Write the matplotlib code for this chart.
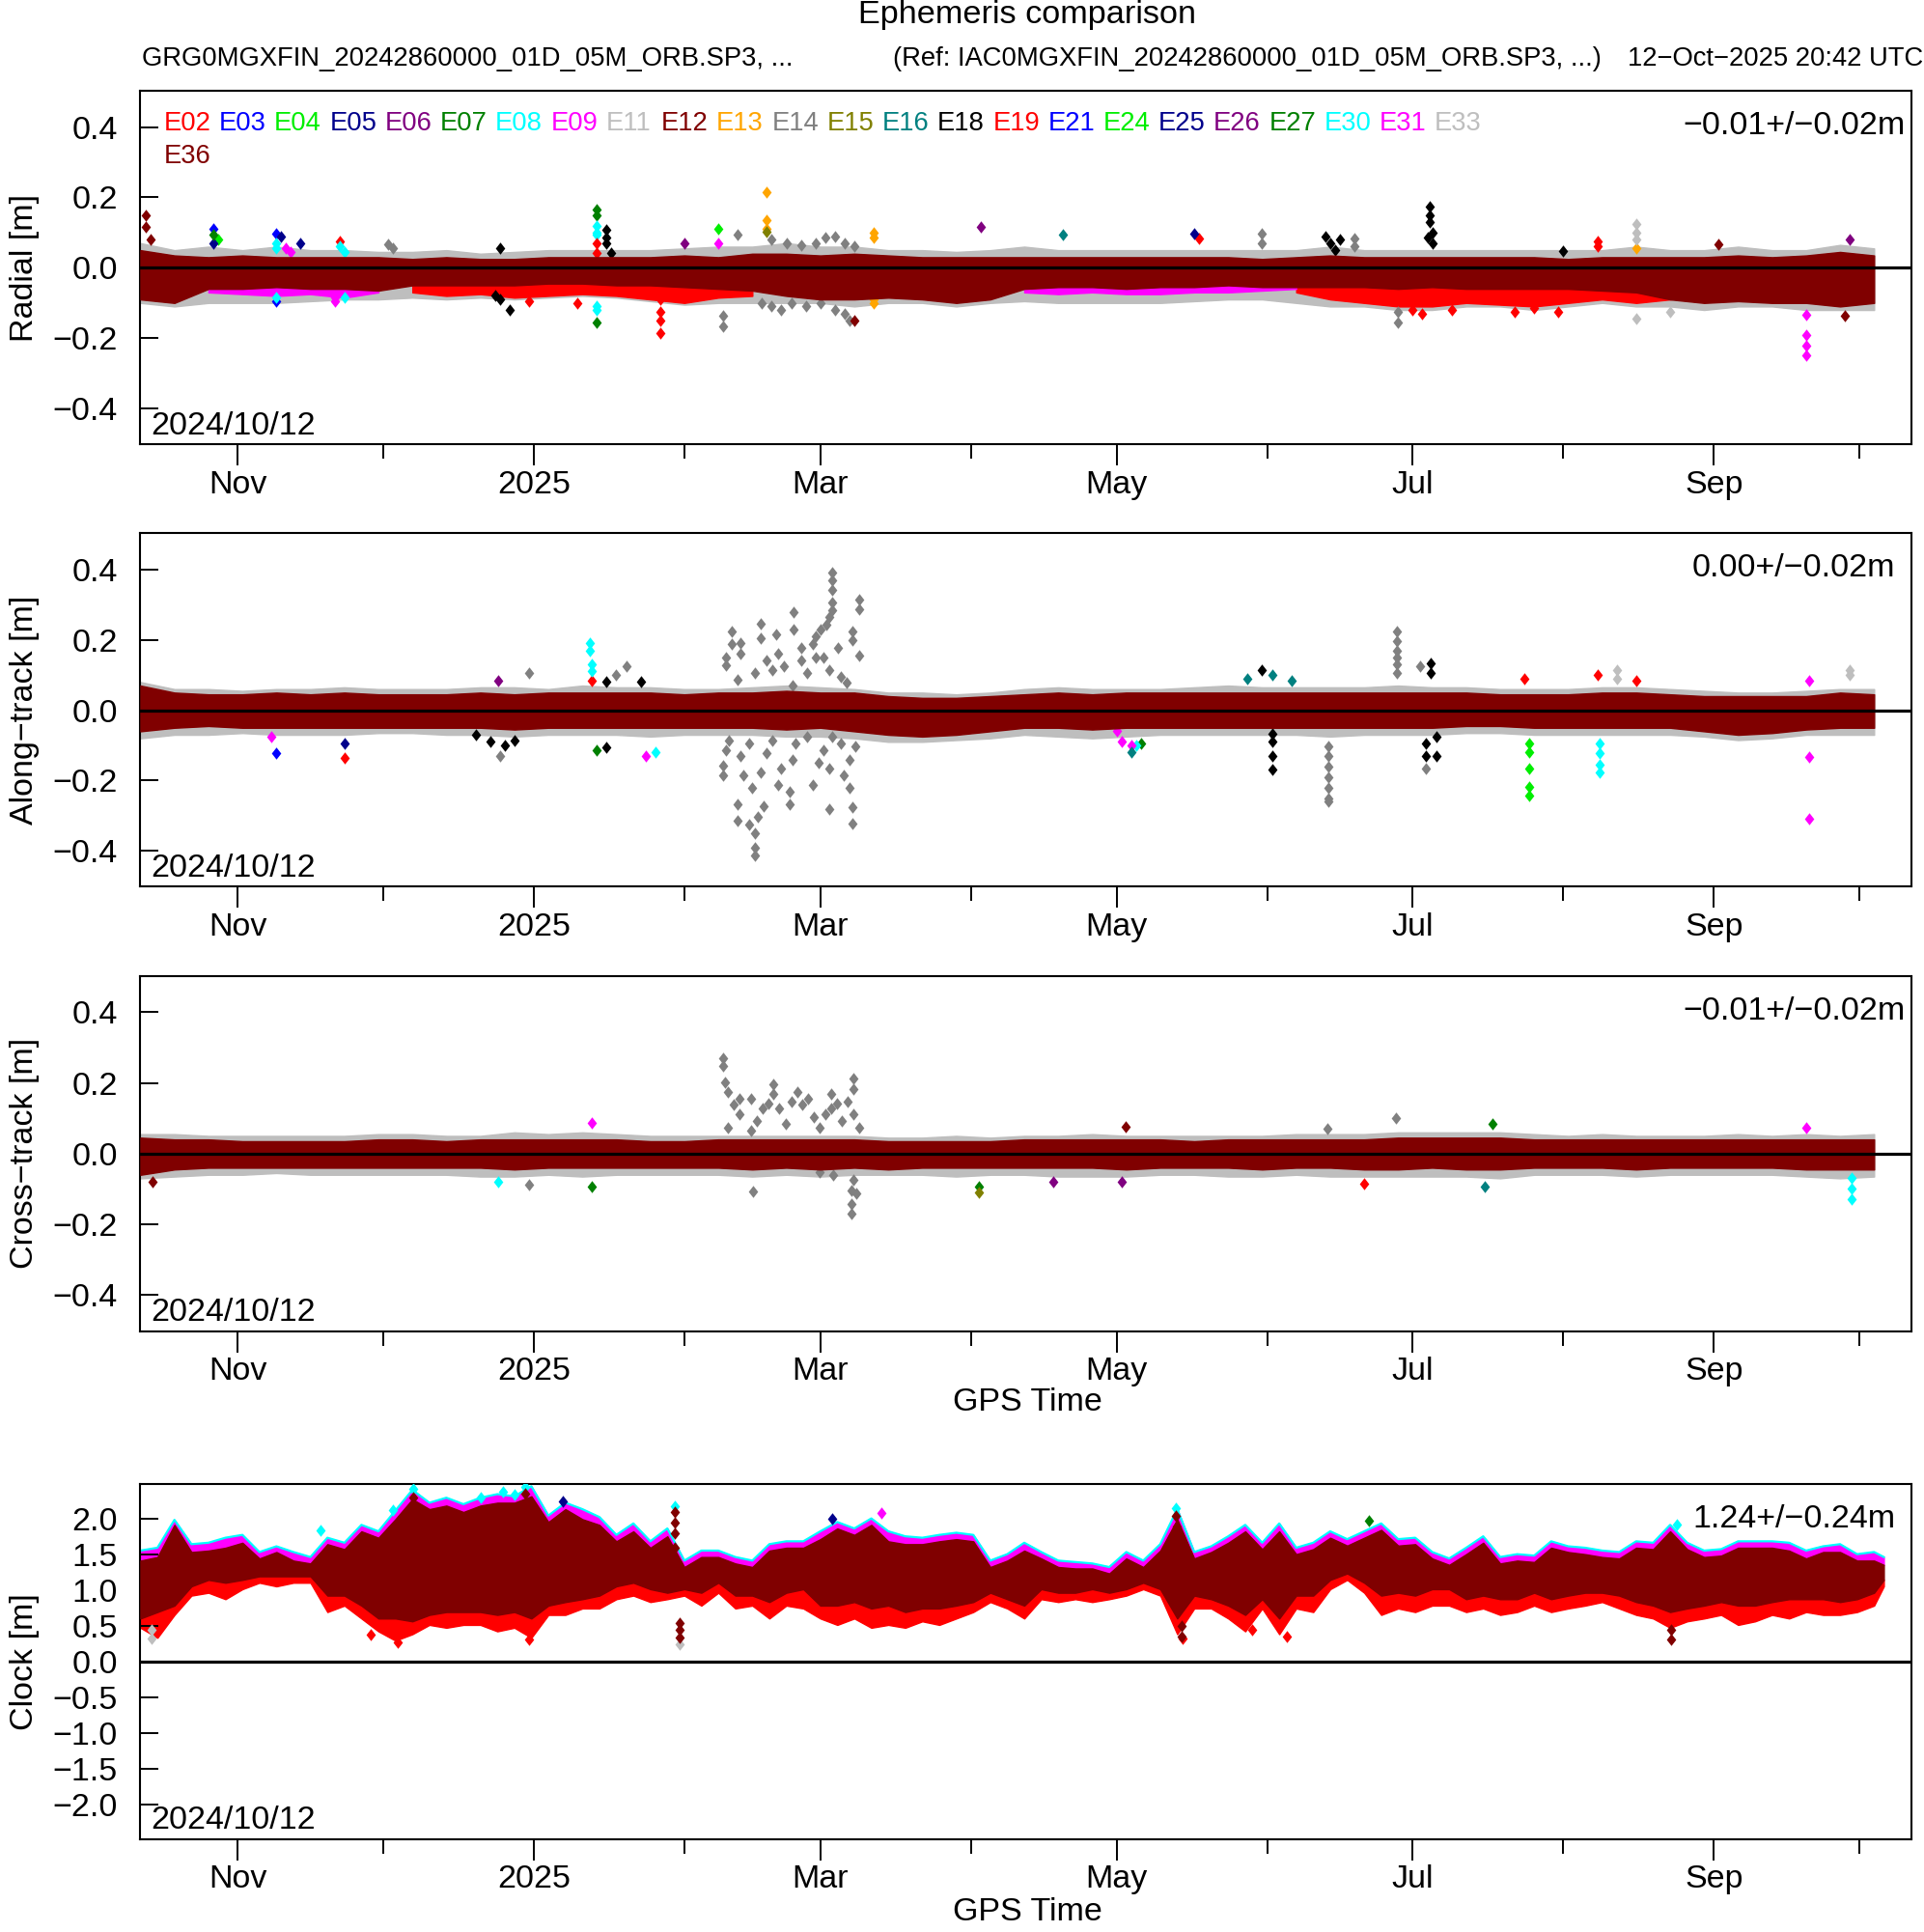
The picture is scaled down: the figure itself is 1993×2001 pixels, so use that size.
import numpy as np
import matplotlib
matplotlib.use('Agg')
import matplotlib.pyplot as plt
import matplotlib.dates as mdates
from matplotlib.ticker import FuncFormatter

plt.rcParams['font.family'] = ['Liberation Sans', 'DejaVu Sans']

# ---------------- data ----------------
sats = ['E02', 'E03', 'E04', 'E05', 'E06', 'E07', 'E08', 'E09', 'E11', 'E12', 'E13',
        'E14', 'E15', 'E16', 'E18', 'E19', 'E21', 'E24', 'E25', 'E26', 'E27', 'E30',
        'E31', 'E33', 'E36']
sat_colors = ['#FF0000', '#0000FF', '#00EE00', '#00008B', '#800080', '#008000', '#00FFFF',
              '#FF00FF', '#BEBEBE', '#800000', '#FFA500', '#808080', '#808000', '#008080',
              '#000000', '#FF0000', '#0000FF', '#00EE00', '#00008B', '#800080', '#008000',
              '#00FFFF', '#FF00FF', '#BEBEBE', '#800000']

# weekly sample days (days since 2024-10-12) for the orbit panels
week_days = [0, 7, 14, 21, 28, 35, 42, 49, 56, 63, 70, 77, 84, 91, 98, 105, 112, 119, 126, 133,
             140, 147, 154, 161, 168, 175, 182, 189, 196, 203, 210, 217, 224, 231, 238, 245,
             252, 259, 266, 273, 280, 287, 294, 301, 308, 315, 322, 329, 336, 343, 350, 357]

# Radial: envelope of E36 (main band) and of the other satellites (fringe)
rad_band_hi = [0.05, 0.035, 0.03, 0.035, 0.03, 0.03, 0.03, 0.03, 0.025, 0.03,
               0.025, 0.025, 0.03, 0.03, 0.03, 0.03, 0.035, 0.03, 0.04, 0.04,
               0.035, 0.04, 0.035, 0.03, 0.03, 0.03, 0.03, 0.03, 0.03, 0.03,
               0.03, 0.03, 0.03, 0.025, 0.03, 0.035, 0.03, 0.03, 0.03, 0.03,
               0.03, 0.03, 0.025, 0.03, 0.03, 0.03, 0.03, 0.035, 0.03, 0.035,
               0.045, 0.035]
rad_band_lo = [-0.09, -0.10, -0.06, -0.06, -0.055, -0.06, -0.06, -0.065, -0.05, -0.05,
               -0.05, -0.05, -0.045, -0.045, -0.05, -0.05, -0.055, -0.06, -0.065, -0.08,
               -0.09, -0.09, -0.085, -0.09, -0.10, -0.09, -0.06, -0.055, -0.055, -0.06,
               -0.055, -0.055, -0.05, -0.055, -0.055, -0.055, -0.055, -0.06, -0.055, -0.06,
               -0.06, -0.06, -0.06, -0.065, -0.07, -0.09, -0.10, -0.095, -0.10, -0.10,
               -0.11, -0.10]
rad_fringe_hi = [0.07, 0.05, 0.06, 0.05, 0.06, 0.05, 0.05, 0.045, 0.045, 0.05,
                 0.04, 0.045, 0.05, 0.05, 0.05, 0.05, 0.055, 0.06, 0.06, 0.07,
                 0.06, 0.06, 0.05, 0.05, 0.045, 0.05, 0.06, 0.05, 0.05, 0.05,
                 0.05, 0.05, 0.05, 0.05, 0.05, 0.06, 0.05, 0.05, 0.05, 0.05,
                 0.05, 0.05, 0.05, 0.05, 0.06, 0.05, 0.05, 0.06, 0.05, 0.05,
                 0.065, 0.055]
rad_fringe_lo = [-0.10, -0.11, -0.10, -0.10, -0.10, -0.095, -0.09, -0.09, -0.085, -0.09,
                 -0.085, -0.09, -0.085, -0.08, -0.085, -0.095, -0.105, -0.10, -0.10, -0.10,
                 -0.10, -0.11, -0.10, -0.10, -0.11, -0.10, -0.095, -0.10, -0.10, -0.10,
                 -0.10, -0.095, -0.09, -0.09, -0.10, -0.11, -0.11, -0.12, -0.12, -0.11,
                 -0.11, -0.12, -0.11, -0.10, -0.11, -0.11, -0.12, -0.11, -0.11, -0.12,
                 -0.12, -0.12]
# radial colored patches (E19 red, E31 magenta)
rad_E19_days_a = [56, 63, 70, 77, 84, 91, 98, 105, 112, 119, 126]
rad_E19_lo_a = [-0.07, -0.08, -0.075, -0.085, -0.08, -0.075, -0.08, -0.09, -0.10, -0.085, -0.08]
rad_E19_hi_a = [-0.035, -0.03, -0.03, -0.03, -0.025, -0.025, -0.03, -0.03, -0.035, -0.04, -0.04]
rad_E19_days_b = [238, 245, 252, 259, 266, 273, 280, 287, 294, 301, 308, 315, 322, 329]
rad_E19_lo_b = [-0.07, -0.09, -0.10, -0.11, -0.11, -0.10, -0.105, -0.11, -0.10, -0.09, -0.10,
                -0.09, -0.08, -0.07]
rad_E19_hi_b = [-0.035, -0.03, -0.03, -0.025, -0.03, -0.03, -0.03, -0.03, -0.03, -0.035,
                -0.035, -0.04, -0.045, -0.05]
rad_E31_days_a = [14, 21, 28, 35, 42, 49]
rad_E31_lo_a = [-0.07, -0.075, -0.08, -0.075, -0.085, -0.07]
rad_E31_hi_a = [-0.03, -0.03, -0.03, -0.03, -0.03, -0.03]
rad_E31_days_b = [182, 189, 196, 203, 210, 217, 224, 231, 238]
rad_E31_lo_b = [-0.07, -0.075, -0.07, -0.075, -0.075, -0.07, -0.07, -0.065, -0.06]
rad_E31_hi_b = [-0.025, -0.025, -0.025, -0.025, -0.025, -0.025, -0.025, -0.025, -0.025]

rad_outliers = [
    ('E36', 1, 0.148), ('E36', 1, 0.116), ('E36', 2, 0.08),
    ('E03', 15, 0.11), ('E07', 15, 0.093), ('E04', 16, 0.08), ('E05', 15, 0.07),
    ('E03', 28, 0.098), ('E05', 29, 0.088), ('E08', 28, 0.07), ('E08', 28, 0.055),
    ('E09', 30, 0.057), ('E09', 31, 0.045), ('E05', 33, 0.07), ('E02', 41, 0.075),
    ('E08', 41, 0.06), ('E08', 42, 0.045), ('E09', 40, -0.094), ('E09', 40, -0.085),
    ('E03', 28, -0.094), ('E08', 28, -0.085), ('E08', 42, -0.085),
    ('E14', 51, 0.066), ('E14', 52, 0.055),
    ('E18', 74, 0.057), ('E18', 73, -0.08), ('E18', 74, -0.09), ('E18', 76, -0.12),
    ('E19', 80, -0.094), ('E19', 90, -0.10),
    ('E07', 94, 0.166), ('E07', 94, 0.148), ('E08', 94, 0.12), ('E08', 94, 0.10),
    ('E08', 94, 0.093), ('E19', 94, 0.07), ('E19', 94, 0.043),
    ('E08', 94, -0.108), ('E08', 94, -0.12), ('E07', 94, -0.155),
    ('E18', 96, 0.107), ('E18', 96, 0.085), ('E18', 96, 0.07), ('E18', 97, 0.043),
    ('E19', 107, -0.09), ('E19', 107, -0.126), ('E19', 107, -0.149), ('E19', 107, -0.186),
    ('E04', 119, 0.111), ('E09', 119, 0.07), ('E14', 120, -0.135), ('E14', 120, -0.167),
    ('E14', 123, 0.093),
    ('E13', 129, 0.216), ('E13', 129, 0.134), ('E13', 129, 0.111), ('E15', 129, 0.102),
    ('E14', 130, 0.08), ('E14', 133, 0.07), ('E14', 136, 0.065), ('E14', 139, 0.07),
    ('E14', 141, 0.085), ('E14', 143, 0.09), ('E14', 145, 0.07), ('E14', 147, 0.06),
    ('E14', 128, -0.10), ('E14', 130, -0.11), ('E14', 132, -0.12), ('E14', 134, -0.10),
    ('E14', 137, -0.11), ('E14', 140, -0.10), ('E14', 143, -0.12), ('E14', 145, -0.13),
    ('E14', 146, -0.15),
    ('E13', 151, 0.10), ('E13', 151, 0.085), ('E13', 151, -0.09), ('E13', 151, -0.10),
    ('E26', 173, 0.116), ('E26', 112, 0.07), ('E36', 147, -0.149),
    ('E16', 190, 0.093), ('E25', 217, 0.098), ('E19', 218, 0.084), ('E14', 231, 0.098),
    ('E14', 231, 0.07),
    ('E18', 244, 0.09), ('E18', 245, 0.07), ('E18', 246, 0.05), ('E18', 247, 0.08),
    ('E14', 250, 0.084), ('E14', 250, 0.06),
    ('E18', 265.5, 0.174), ('E18', 265.5, 0.148), ('E18', 265.5, 0.13), ('E18', 266, 0.10),
    ('E18', 266, 0.07), ('E18', 265, 0.085),
    ('E14', 259, -0.126), ('E14', 259, -0.155),
    ('E19', 262, -0.12), ('E19', 264, -0.13), ('E19', 270, -0.12), ('E19', 283, -0.125),
    ('E19', 287, -0.115), ('E19', 292, -0.125),
    ('E18', 293, 0.047), ('E19', 300, 0.075), ('E19', 300, 0.06),
    ('E33', 308, 0.125), ('E33', 308, 0.10), ('E33', 308, 0.08), ('E33', 308, -0.144),
    ('E13', 308, 0.057),
    ('E31', 343, -0.133), ('E31', 343, -0.19), ('E31', 343, -0.222), ('E31', 343, -0.25),
    ('E26', 352, 0.08), ('E36', 325, 0.066), ('E36', 351, -0.135), ('E33', 315, -0.126),
]

# Along-track
alo_band_hi = [0.07, 0.05, 0.045, 0.045, 0.05, 0.045, 0.05, 0.045, 0.045, 0.045,
               0.05, 0.045, 0.05, 0.05, 0.05, 0.05, 0.045, 0.05, 0.05, 0.055,
               0.05, 0.05, 0.04, 0.035, 0.035, 0.04, 0.045, 0.05, 0.045, 0.05,
               0.05, 0.05, 0.05, 0.05, 0.05, 0.05, 0.05, 0.05, 0.05, 0.05,
               0.045, 0.045, 0.045, 0.05, 0.05, 0.045, 0.04, 0.04, 0.04, 0.04,
               0.05, 0.045]
alo_band_lo = [-0.06, -0.05, -0.045, -0.05, -0.05, -0.05, -0.05, -0.05, -0.05, -0.05,
               -0.05, -0.055, -0.05, -0.05, -0.05, -0.05, -0.05, -0.05, -0.05, -0.055,
               -0.05, -0.06, -0.07, -0.075, -0.07, -0.06, -0.05, -0.05, -0.055, -0.05,
               -0.05, -0.05, -0.05, -0.05, -0.05, -0.05, -0.05, -0.05, -0.05, -0.045,
               -0.045, -0.05, -0.05, -0.05, -0.05, -0.05, -0.06, -0.07, -0.065, -0.055,
               -0.05, -0.05]
alo_fringe_hi = [0.08, 0.06, 0.06, 0.055, 0.06, 0.06, 0.065, 0.06, 0.06, 0.06,
                 0.065, 0.065, 0.06, 0.07, 0.065, 0.065, 0.06, 0.06, 0.065, 0.07,
                 0.065, 0.06, 0.05, 0.05, 0.045, 0.05, 0.06, 0.065, 0.06, 0.06,
                 0.06, 0.065, 0.07, 0.065, 0.065, 0.065, 0.065, 0.07, 0.065, 0.065,
                 0.06, 0.06, 0.06, 0.065, 0.065, 0.06, 0.055, 0.05, 0.05, 0.055,
                 0.06, 0.06]
alo_fringe_lo = [-0.08, -0.07, -0.07, -0.065, -0.07, -0.07, -0.07, -0.065, -0.065, -0.07,
                 -0.07, -0.075, -0.07, -0.07, -0.07, -0.075, -0.07, -0.07, -0.07, -0.075,
                 -0.075, -0.08, -0.09, -0.09, -0.085, -0.08, -0.07, -0.075, -0.08, -0.075,
                 -0.07, -0.07, -0.07, -0.07, -0.07, -0.075, -0.07, -0.07, -0.07, -0.065,
                 -0.065, -0.07, -0.07, -0.07, -0.07, -0.07, -0.075, -0.085, -0.08, -0.07,
                 -0.07, -0.07]
alo_outliers = [
    ('E08', 92.6, 0.19), ('E08', 92.6, 0.17), ('E08', 93, 0.13), ('E08', 93, 0.11),
    ('E02', 93, 0.083), ('E14', 80, 0.105), ('E14', 100, 0.124), ('E14', 98, 0.10),
    ('E18', 96, 0.08), ('E18', 103, 0.08), ('E26', 73.6, 0.083),
    ('E09', 27, -0.076), ('E03', 28, -0.122), ('E05', 42, -0.095), ('E02', 42, -0.135),
    ('E18', 69, -0.07), ('E18', 72, -0.09), ('E18', 75, -0.10), ('E18', 77, -0.085),
    ('E14', 74, -0.13), ('E09', 104, -0.13), ('E08', 106, -0.12), ('E07', 94, -0.113),
    ('E18', 96, -0.105),
    ('E14', 142.5, 0.392), ('E14', 142.5, 0.369), ('E14', 142.5, 0.342), ('E14', 142.5, 0.305),
    ('E14', 142.5, 0.283), ('E14', 141.9, 0.265), ('E14', 141.3, 0.242), ('E14', 140.1, 0.228),
    ('E14', 139, 0.21), ('E14', 138.4, 0.187), ('E14', 148, 0.315), ('E14', 148, 0.287),
    ('E14', 146.6, 0.224), ('E14', 146.6, 0.20), ('E14', 148, 0.155), ('E14', 134.5, 0.278),
    ('E14', 134.5, 0.228), ('E14', 127.7, 0.246), ('E14', 127.7, 0.205), ('E14', 131, 0.215),
    ('E14', 121.8, 0.224), ('E14', 121.8, 0.187), ('E14', 123.6, 0.192), ('E14', 123.6, 0.16),
    ('E14', 120.6, 0.151), ('E14', 120.6, 0.128), ('E14', 128.9, 0.142), ('E14', 131.3, 0.16),
    ('E14', 132.5, 0.124), ('E14', 136, 0.178), ('E14', 136, 0.142), ('E14', 137.2, 0.105),
    ('E14', 140.7, 0.151), ('E14', 141.9, 0.115), ('E14', 143.7, 0.178), ('E14', 144.3, 0.096),
    ('E14', 145.5, 0.078), ('E14', 126.6, 0.105), ('E14', 130.1, 0.115), ('E14', 123, 0.087),
    ('E14', 134.2, 0.069), ('E14', 139, 0.151),
    ('E14', 126.5, -0.413), ('E14', 126.5, -0.39), ('E14', 126.5, -0.35), ('E14', 125.4, -0.326),
    ('E14', 123, -0.313), ('E14', 123, -0.267), ('E14', 128.3, -0.272), ('E14', 127.2, -0.304),
    ('E14', 133.6, -0.267), ('E14', 133.6, -0.231), ('E14', 141.9, -0.281), ('E14', 146.6, -0.322),
    ('E14', 146.6, -0.276), ('E14', 146, -0.222), ('E14', 120, -0.185), ('E14', 120, -0.158),
    ('E14', 120.6, -0.113), ('E14', 124.2, -0.185), ('E14', 126, -0.222), ('E14', 127.7, -0.176),
    ('E14', 128.9, -0.122), ('E14', 131.3, -0.213), ('E14', 131.9, -0.167), ('E14', 134.2, -0.14),
    ('E14', 134.8, -0.095), ('E14', 138.4, -0.213), ('E14', 139.6, -0.149), ('E14', 140.7, -0.113),
    ('E14', 141.9, -0.167), ('E14', 144.9, -0.185), ('E14', 146, -0.14), ('E14', 147.2, -0.104),
    ('E14', 144.3, -0.095), ('E14', 123.6, -0.131), ('E14', 121.2, -0.085), ('E14', 125.4, -0.095),
    ('E14', 130.1, -0.085), ('E14', 137.2, -0.076), ('E14', 142.5, -0.076),
    ('E14', 258.8, 0.225), ('E14', 258.8, 0.196), ('E14', 258.8, 0.17), ('E14', 258.8, 0.15),
    ('E14', 258.8, 0.13), ('E14', 258.8, 0.105), ('E18', 265.6, 0.133), ('E18', 265.6, 0.105),
    ('E18', 231, 0.115), ('E14', 263.6, 0.124),
    ('E18', 233, -0.067), ('E18', 233, -0.09), ('E18', 233, -0.13), ('E18', 233, -0.17),
    ('E18', 264.6, -0.095), ('E18', 264.6, -0.13), ('E18', 266.8, -0.076), ('E18', 266.8, -0.13),
    ('E14', 264.6, -0.165),
    ('E14', 244.6, -0.104), ('E14', 244.6, -0.13), ('E14', 244.6, -0.16), ('E14', 244.6, -0.19),
    ('E14', 244.6, -0.22), ('E14', 244.6, -0.25), ('E14', 244.6, -0.26),
    ('E04', 286, -0.095), ('E04', 286, -0.12), ('E04', 286, -0.167), ('E04', 286, -0.217),
    ('E04', 286, -0.242),
    ('E30', 300.4, -0.095), ('E30', 300.4, -0.122), ('E30', 300.4, -0.154), ('E30', 300.4, -0.176),
    ('E31', 343.6, -0.134), ('E31', 343.6, -0.308), ('E31', 343.6, 0.083),
    ('E09', 201, -0.06), ('E09', 202, -0.09), ('E09', 204, -0.10), ('E08', 205, -0.10),
    ('E16', 204, -0.12), ('E07', 206, -0.095),
    ('E16', 228, 0.09), ('E16', 233, 0.10), ('E16', 237, 0.085), ('E33', 304, 0.09),
    ('E33', 304, 0.115), ('E33', 352, 0.10), ('E33', 352, 0.115), ('E02', 300, 0.10),
    ('E02', 285, 0.09), ('E02', 308, 0.083),
]

# Cross-track
crs_band_hi = [0.045, 0.04, 0.04, 0.035, 0.035, 0.035, 0.035, 0.04, 0.04, 0.035,
               0.04, 0.04, 0.04, 0.04, 0.04, 0.035, 0.035, 0.04, 0.04, 0.04,
               0.04, 0.04, 0.035, 0.035, 0.035, 0.035, 0.04, 0.04, 0.04, 0.04,
               0.04, 0.035, 0.04, 0.04, 0.04, 0.04, 0.04, 0.045, 0.045, 0.045,
               0.045, 0.04, 0.04, 0.04, 0.04, 0.04, 0.04, 0.04, 0.04, 0.04,
               0.04, 0.04]
crs_band_lo = [-0.06, -0.045, -0.04, -0.04, -0.04, -0.04, -0.04, -0.04, -0.04, -0.04,
               -0.04, -0.045, -0.04, -0.04, -0.04, -0.04, -0.04, -0.04, -0.045, -0.04,
               -0.045, -0.04, -0.045, -0.04, -0.04, -0.04, -0.04, -0.04, -0.04, -0.045,
               -0.04, -0.04, -0.04, -0.045, -0.04, -0.04, -0.045, -0.045, -0.04, -0.045,
               -0.045, -0.04, -0.04, -0.04, -0.045, -0.04, -0.04, -0.04, -0.04, -0.045,
               -0.045, -0.045]
crs_fringe_hi = [0.055, 0.055, 0.05, 0.05, 0.05, 0.05, 0.05, 0.055, 0.055, 0.05,
                 0.05, 0.06, 0.055, 0.06, 0.055, 0.05, 0.05, 0.05, 0.05, 0.05,
                 0.05, 0.05, 0.045, 0.045, 0.05, 0.045, 0.05, 0.05, 0.055, 0.05,
                 0.05, 0.05, 0.05, 0.05, 0.055, 0.055, 0.055, 0.06, 0.06, 0.06,
                 0.06, 0.055, 0.05, 0.055, 0.05, 0.05, 0.05, 0.055, 0.05, 0.055,
                 0.05, 0.055]
crs_fringe_lo = [-0.07, -0.065, -0.06, -0.06, -0.055, -0.06, -0.06, -0.06, -0.06, -0.06,
                 -0.065, -0.065, -0.06, -0.065, -0.06, -0.06, -0.06, -0.06, -0.065, -0.06,
                 -0.065, -0.06, -0.06, -0.06, -0.065, -0.06, -0.06, -0.065, -0.065, -0.065,
                 -0.06, -0.06, -0.065, -0.065, -0.06, -0.065, -0.065, -0.065, -0.065, -0.065,
                 -0.07, -0.06, -0.06, -0.06, -0.065, -0.06, -0.06, -0.06, -0.06, -0.065,
                 -0.07, -0.065]
crs_outliers = [
    ('E14', 119.9, 0.27), ('E14', 119.9, 0.247), ('E14', 120.3, 0.201), ('E14', 121, 0.174),
    ('E14', 122.2, 0.138), ('E14', 123.4, 0.111), ('E14', 125.8, 0.156), ('E14', 127, 0.093),
    ('E14', 130.4, 0.197), ('E14', 130.4, 0.17), ('E14', 131.6, 0.129), ('E14', 135.2, 0.174),
    ('E14', 136.3, 0.138), ('E14', 138.7, 0.102), ('E14', 142.2, 0.17), ('E14', 142.2, 0.129),
    ('E14', 145.7, 0.147), ('E14', 146.9, 0.211), ('E14', 146.9, 0.183), ('E14', 146.9, 0.111),
    ('E14', 148.1, 0.074), ('E14', 121, 0.074), ('E14', 125.8, 0.065), ('E14', 132.8, 0.083),
    ('E14', 139.8, 0.074), ('E14', 134, 0.147), ('E14', 128.1, 0.129), ('E14', 141, 0.111),
    ('E14', 137.5, 0.156), ('E14', 144.5, 0.093), ('E14', 123.4, 0.156), ('E14', 129.3, 0.142),
    ('E14', 143.4, 0.142),
    ('E14', 126.2, -0.107), ('E14', 146.4, -0.143), ('E14', 146.4, -0.171), ('E14', 146.4, -0.103),
    ('E14', 147.4, -0.112), ('E14', 142.7, -0.062), ('E14', 139.8, -0.053), ('E14', 146.9, -0.075),
    ('E30', 352.4, -0.07), ('E30', 352.4, -0.10), ('E30', 352.4, -0.13), ('E31', 343, 0.074),
    ('E09', 93, 0.086), ('E27', 278.4, 0.083), ('E14', 258.5, 0.10), ('E14', 244.4, 0.07),
    ('E36', 2.4, -0.08), ('E15', 172.7, -0.11), ('E07', 172.7, -0.093), ('E14', 80, -0.089),
    ('E07', 93, -0.093), ('E16', 276.8, -0.093), ('E19', 252, -0.085), ('E26', 188, -0.08),
    ('E26', 202, -0.08), ('E08', 73.6, -0.08), ('E36', 202.8, 0.076),
]

# Clock: sampled every 3.5 days; top of all satellites, top/bottom of E36, bottom of all
clk_days = [0, 3.5, 7, 10.5, 14, 17.5, 21, 24.5, 28, 31.5, 35, 38.5, 42, 45.5, 49, 52.5,
            56, 59.5, 63, 66.5, 70, 73.5, 77, 80.5, 84, 87.5, 91, 94.5, 98, 101.5, 105, 108.5,
            112, 115.5, 119, 122.5, 126, 129.5, 133, 136.5, 140, 143.5, 147, 150.5, 154, 157.5,
            161, 164.5, 168, 171.5, 175, 178.5,
            182, 185.5, 189, 192.5, 196, 199.5, 203, 206.5, 210, 213.5, 217, 220.5, 224, 227.5,
            231, 234.5, 238, 241.5, 245, 248.5, 252, 255.5, 259, 262.5, 266, 269.5, 273, 276.5,
            280, 283.5, 287, 290.5, 294, 297.5, 301, 304.5, 308, 311.5, 315, 318.5, 322, 325.5,
            329, 332.5, 336, 339.5, 343, 346.5, 350, 353.5, 357, 359]
clk_top = [1.56, 1.60, 1.99, 1.65, 1.67, 1.74, 1.78, 1.54, 1.62, 1.54, 1.47, 1.74, 1.67, 1.92,
           1.83, 2.12, 2.41, 2.23, 2.30, 2.21, 2.30, 2.35, 2.32, 2.46, 2.05, 2.23, 2.14, 2.03,
           1.78, 1.94, 1.69, 1.87, 1.42, 1.56, 1.56, 1.47, 1.42, 1.65, 1.69, 1.69, 1.83, 1.96,
           1.87, 2.01, 1.83, 1.76, 1.74, 1.78, 1.81, 1.78, 1.42, 1.51,
           1.67, 1.54, 1.42, 1.40, 1.38, 1.33, 1.54, 1.42, 1.65, 2.14, 1.54, 1.62, 1.76, 1.92,
           1.67, 1.94, 1.60, 1.67, 1.83, 1.72, 1.83, 1.94, 1.72, 1.74, 1.54, 1.45, 1.60, 1.76,
           1.47, 1.51, 1.49, 1.69, 1.62, 1.60, 1.56, 1.54, 1.69, 1.67, 1.92, 1.67, 1.56, 1.58,
           1.69, 1.69, 1.69, 1.67, 1.56, 1.62, 1.65, 1.51, 1.54, 1.47]
clk_band_hi = [1.42, 1.47, 1.92, 1.54, 1.56, 1.60, 1.67, 1.45, 1.54, 1.42, 1.38, 1.65, 1.58,
               1.83, 1.74, 2.00, 2.28, 2.14, 2.19, 2.10, 2.19, 2.23, 2.23, 2.32, 1.96, 2.14,
               2.00, 1.92, 1.69, 1.83, 1.60, 1.76, 1.33, 1.47, 1.47, 1.38, 1.33, 1.56, 1.60,
               1.60, 1.72, 1.87, 1.78, 1.92, 1.69, 1.65, 1.65, 1.69, 1.72, 1.69, 1.33, 1.42,
               1.56, 1.45, 1.33, 1.31, 1.31, 1.24, 1.45, 1.33, 1.56, 2.00, 1.45, 1.54, 1.67,
               1.83, 1.58, 1.83, 1.51, 1.58, 1.74, 1.63, 1.74, 1.85, 1.63, 1.65, 1.45, 1.36,
               1.51, 1.67, 1.38, 1.42, 1.40, 1.60, 1.54, 1.51, 1.47, 1.45, 1.60, 1.58, 1.83,
               1.58, 1.47, 1.49, 1.60, 1.60, 1.60, 1.56, 1.45, 1.54, 1.54, 1.42, 1.42, 1.36]
clk_band_lo = [0.61, 0.70, 0.79, 1.06, 1.15, 1.11, 1.15, 1.20, 1.20, 1.20, 1.20, 0.93, 0.93,
               0.79, 0.61, 0.61, 0.57, 0.66, 0.70, 0.70, 0.70, 0.66, 0.70, 0.61, 0.79, 0.84,
               0.88, 0.93, 1.06, 1.11, 1.02, 0.97, 1.02, 0.97, 1.11, 0.93, 0.93, 0.84, 0.97,
               1.02, 0.79, 0.79, 0.84, 0.75, 0.79, 0.70, 0.75, 0.75, 0.79, 0.84, 0.97, 0.88,
               0.79, 1.02, 0.97, 0.97, 1.02, 0.97, 1.02, 1.11, 1.02, 0.61, 0.93, 0.88, 0.79,
               0.66, 0.88, 0.61, 0.93, 0.93, 1.15, 1.24, 1.11, 0.93, 0.97, 0.93, 1.02, 1.02,
               0.88, 0.93, 0.88, 0.88, 0.97, 0.88, 0.93, 0.97, 0.97, 0.93, 0.84, 0.79, 0.70,
               0.75, 0.79, 0.84, 0.79, 0.79, 0.84, 0.88, 0.88, 0.88, 0.84, 0.88, 0.97, 1.15]
clk_bottom = [0.48, 0.34, 0.66, 0.93, 0.97, 0.88, 1.02, 1.11, 1.06, 1.11, 1.11, 0.70, 0.79,
              0.61, 0.43, 0.30, 0.39, 0.52, 0.48, 0.52, 0.52, 0.43, 0.48, 0.34, 0.66, 0.66,
              0.75, 0.75, 0.88, 0.93, 0.84, 0.88, 0.93, 0.79, 0.97, 0.75, 0.79, 0.61, 0.79,
              0.75, 0.61, 0.52, 0.61, 0.48, 0.52, 0.48, 0.57, 0.52, 0.61, 0.70, 0.84, 0.75,
              0.61, 0.88, 0.84, 0.88, 0.84, 0.88, 0.93, 1.02, 0.93, 0.39, 0.75, 0.75, 0.61,
              0.43, 0.75, 0.39, 0.75, 0.70, 1.02, 1.15, 0.97, 0.66, 0.75, 0.70, 0.79, 0.79,
              0.70, 0.75, 0.66, 0.70, 0.79, 0.70, 0.75, 0.79, 0.84, 0.75, 0.66, 0.61, 0.48,
              0.57, 0.61, 0.66, 0.52, 0.57, 0.66, 0.61, 0.70, 0.66, 0.66, 0.70, 0.79, 1.06]
clk_outliers = [
    ('E08', 110, 2.18), ('E36', 110, 2.1), ('E36', 110, 1.95), ('E36', 110, 1.8),
    ('E36', 110, 1.6), ('E36', 111, 0.55), ('E36', 111, 0.45), ('E36', 111, 0.34),
    ('E11', 111, 0.25),
    ('E08', 79.3, 2.45), ('E36', 79.3, 2.35), ('E08', 56.2, 2.42), ('E36', 56.2, 2.3),
    ('E19', 53, 0.27), ('E19', 80, 0.31), ('E19', 47.4, 0.38), ('E11', 2.2, 0.33),
    ('E11', 2.2, 0.45),
    ('E08', 213.2, 2.16), ('E36', 213.2, 2.05), ('E36', 213.5, 1.9), ('E36', 214, 1.75),
    ('E36', 214.4, 0.5), ('E36', 214.4, 0.36), ('E19', 214.6, 0.33),
    ('E19', 236, 0.36), ('E19', 229, 0.45), ('E36', 315.2, 0.31), ('E36', 315.2, 0.45),
    ('E08', 316.4, 1.93), ('E07', 253, 1.98),
    ('E08', 52, 2.13), ('E08', 70, 2.3), ('E08', 74.6, 2.38), ('E08', 77, 2.34),
    ('E05', 87, 2.25), ('E08', 37, 1.84), ('E09', 152.6, 2.09), ('E05', 142.5, 2.0),
]

stats_text = ['\u22120.01+/\u22120.02m', '0.00+/\u22120.02m', '\u22120.01+/\u22120.02m',
              '1.24+/\u22120.24m']
ylabels = ['Radial [m]', 'Along\u2212track [m]', 'Cross\u2212track [m]', 'Clock [m]']
orbit_ticks = [-0.4, -0.2, 0.0, 0.2, 0.4]
clock_ticks = [-2.0, -1.5, -1.0, -0.5, 0.0, 0.5, 1.0, 1.5, 2.0]

# ---------------- drawing ----------------
START = np.datetime64('2024-10-12T00:00:00')
color_of = dict(zip(sats, sat_colors))
MAROON = color_of['E36']
DIAMOND = [(0, 1), (0.78, 0), (0, -1), (-0.78, 0), (0, 1)]


def to_dt(days):
    return START + (np.asarray(days, dtype=float) * 86400).astype('timedelta64[s]')


def fmt_num(v):
    s = '%.1f' % abs(v)
    return ('\u2212' + s) if v < 0 else s


def draw_outliers(ax, outliers, maroon_pass):
    for sat in sats:
        is_maroon = color_of[sat] == MAROON
        if is_maroon != maroon_pass:
            continue
        pts = [(d, v) for s, d, v in outliers if s == sat]
        if not pts:
            continue
        d, v = zip(*pts)
        ax.plot(to_dt(d), v, linestyle='none', marker=DIAMOND, markersize=9,
                markeredgewidth=0, color=color_of[sat], zorder=5 if maroon_pass else 3)


def draw_orbit(ax, band_hi, band_lo, fringe_hi, fringe_lo, patches, outliers):
    x = to_dt(week_days)
    ax.fill_between(x, fringe_lo, fringe_hi, color=color_of['E11'], lw=1.0, zorder=1)
    for sat, days, lo, hi in patches:
        ax.fill_between(to_dt(days), lo, hi, color=color_of[sat], lw=1.0, zorder=2)
    draw_outliers(ax, outliers, False)
    ax.fill_between(x, band_lo, band_hi, color=MAROON, lw=1.0, zorder=4)
    draw_outliers(ax, outliers, True)
    ax.axhline(0, color='black', lw=2.3, zorder=6)


def draw_clock(ax):
    x = to_dt(clk_days)
    ax.fill_between(x, clk_bottom, clk_band_lo, color=color_of['E19'], lw=1.0, zorder=1)
    ax.fill_between(x, clk_band_hi, clk_top, color=color_of['E31'], lw=1.0, zorder=1)
    ax.plot(x, clk_top, color=color_of['E30'], lw=1.6, zorder=2)
    draw_outliers(ax, clk_outliers, False)
    ax.fill_between(x, clk_band_lo, clk_band_hi, color=MAROON, lw=1.0, zorder=4)
    draw_outliers(ax, clk_outliers, True)
    ax.axhline(0, color='black', lw=2.3, zorder=6)


def month_fmt(x, pos):
    d = mdates.num2date(x)
    return str(d.year) if d.month == 1 else d.strftime('%b')


def style(ax, ylim, ticks, stat, ylabel):
    ax.set_xlim(to_dt([0])[0], to_dt([364.7])[0])
    ax.set_ylim(ylim)
    ax.set_yticks(ticks)
    ax.set_yticklabels([fmt_num(t) for t in ticks])
    ax.tick_params(axis='y', direction='in', length=13.5, width=1.4, pad=17, labelsize=24.5)
    ax.xaxis.set_major_locator(mdates.MonthLocator(bymonth=[1, 3, 5, 7, 9, 11]))
    ax.xaxis.set_minor_locator(mdates.MonthLocator(bymonth=[2, 4, 6, 8, 10, 12]))
    ax.xaxis.set_major_formatter(FuncFormatter(month_fmt))
    ax.tick_params(axis='x', which='major', direction='out', length=16, width=1.4, pad=3,
                   labelsize=24.5)
    ax.tick_params(axis='x', which='minor', direction='out', length=11, width=1.4)
    for sp in ax.spines.values():
        sp.set_linewidth(1.5)
    ax.text(0.9335, 0.90, stat, transform=ax.transAxes, ha='center', va='center',
            fontsize=24.5, zorder=10)
    ax.text(0.0056, 0.052, '2024/10/12', transform=ax.transAxes, ha='left', va='center',
            fontsize=24.5, zorder=10)
    pos = ax.get_position()
    ax.figure.text(0.0128, pos.y0 + pos.height / 2, ylabel, rotation=90, ha='center',
                   va='center', fontsize=24.5)


fig = plt.figure(figsize=(19.93, 20.01), dpi=100)
rects = [(0.073, 0.770, 0.9205, 0.183), (0.073, 0.541, 0.9205, 0.183),
         (0.073, 0.311, 0.9205, 0.184), (0.073, 0.048, 0.9205, 0.184)]
axes = [fig.add_axes(r) for r in rects]

draw_orbit(axes[0], rad_band_hi, rad_band_lo, rad_fringe_hi, rad_fringe_lo,
           [('E19', rad_E19_days_a, rad_E19_lo_a, rad_E19_hi_a),
            ('E19', rad_E19_days_b, rad_E19_lo_b, rad_E19_hi_b),
            ('E31', rad_E31_days_a, rad_E31_lo_a, rad_E31_hi_a),
            ('E31', rad_E31_days_b, rad_E31_lo_b, rad_E31_hi_b)],
           rad_outliers)
draw_orbit(axes[1], alo_band_hi, alo_band_lo, alo_fringe_hi, alo_fringe_lo, [], alo_outliers)
draw_orbit(axes[2], crs_band_hi, crs_band_lo, crs_fringe_hi, crs_fringe_lo, [], crs_outliers)
draw_clock(axes[3])

for i in range(3):
    style(axes[i], (-0.502, 0.503), orbit_ticks, stats_text[i], ylabels[i])
style(axes[3], (-2.48, 2.495), clock_ticks, stats_text[3], ylabels[3])

# legend of satellite names (two rows, in the first panel)
for k, (sat, col) in enumerate(zip(sats, sat_colors)):
    row, colpos = divmod(k, 24)
    axes[0].text(0.0132 + colpos * 0.0312, 0.906 - row * 0.091, sat, color=col,
                 transform=axes[0].transAxes, ha='left', va='center', fontsize=19.7, zorder=10)

fig.text(0.534, 0.9923, 'Ephemeris comparison', ha='center', va='center', fontsize=24.7)
fig.text(0.0737, 0.9693, 'GRG0MGXFIN_20242860000_01D_05M_ORB.SP3, ...', ha='left',
         va='center', fontsize=19.7)
fig.text(0.4641, 0.9693, '(Ref: IAC0MGXFIN_20242860000_01D_05M_ORB.SP3, ...)', ha='left',
         va='center', fontsize=19.7)
fig.text(0.9995, 0.9693, '12\u2212Oct\u22122025 20:42 UTC', ha='right', va='center',
         fontsize=19.7)
fig.text(0.534, 0.2739, 'GPS Time', ha='center', va='center', fontsize=24.5)
fig.text(0.534, 0.0102, 'GPS Time', ha='center', va='center', fontsize=24.5)

fig.savefig('out.png', dpi=100)
